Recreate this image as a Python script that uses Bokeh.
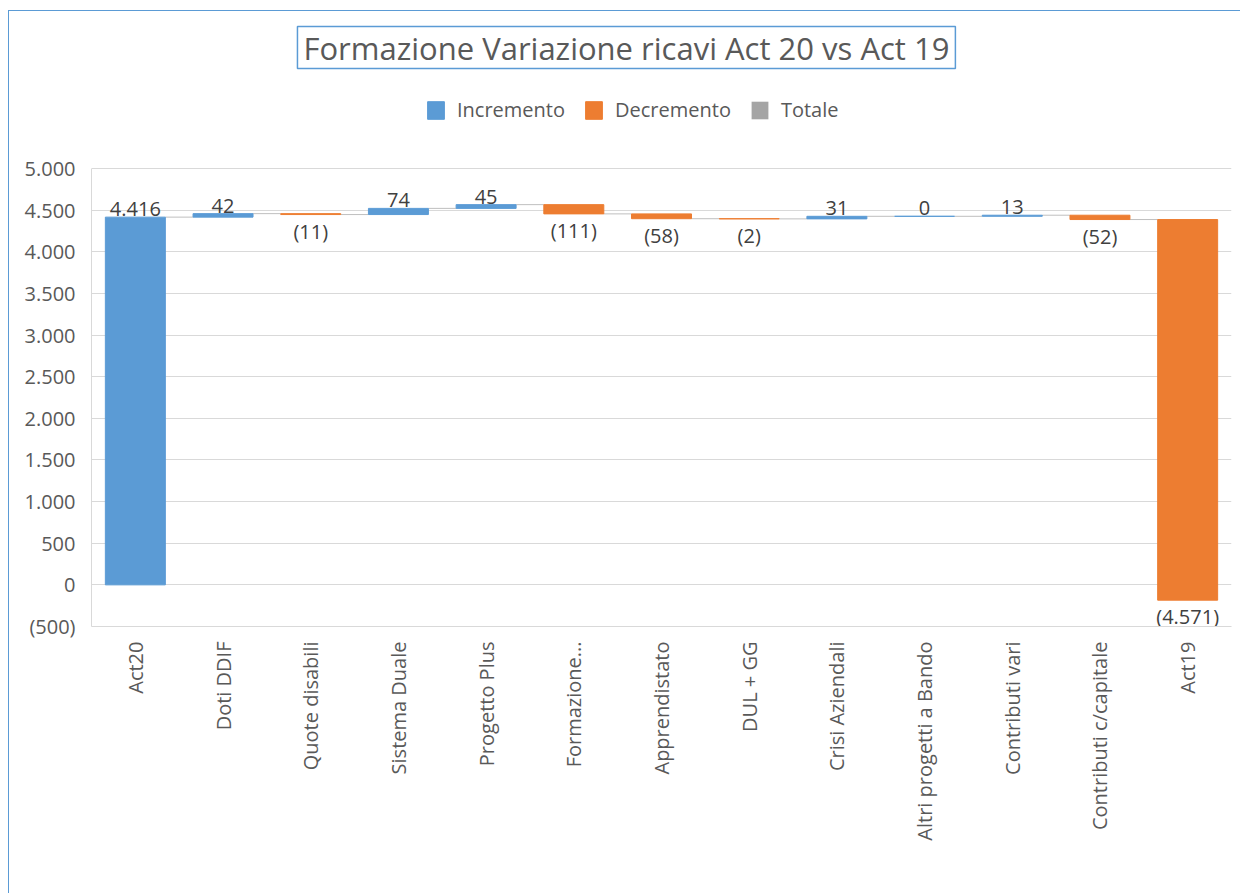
from bokeh.plotting import figure
from bokeh.models import Range1d, FixedTicker, Legend, LegendItem, Label, ColumnDataSource
from bokeh.embed import file_html
from bokeh.resources import INLINE
from bokeh.core.properties import value

categories = ["Act20", "Doti DDIF", "Quote disabili", "Sistema Duale", "Progetto Plus",
              "Formazione...", "Apprendistato", "DUL + GG", "Crisi Aziendali",
              "Altri progetti a Bando", "Contributi vari", "Contributi c/capitale", "Act19"]
deltas = [4416, 42, -11, 74, 45, -111, -58, -2, 31, 0, 13, -52, -4571]
value_labels = ["4.416", "42", "(11)", "74", "45", "(111)", "(58)", "(2)", "31", "0", "13", "(52)", "(4.571)"]
y_ticks = [-500, 0, 500, 1000, 1500, 2000, 2500, 3000, 3500, 4000, 4500, 5000]
y_tick_labels = ["(500)", "0", "500", "1.000", "1.500", "2.000", "2.500", "3.000",
                 "3.500", "4.000", "4.500", "5.000"]
legend_labels = ["Incremento", "Decremento", "Totale"]

BLUE = "#5B9BD5"
ORANGE = "#ED7D31"
GRAY = "#A5A5A5"
TXT = "#595959"
FONT = "Open Sans"

# waterfall geometry
xs = [i + 0.5 for i in range(len(categories))]
bottoms, tops, levels = [], [], []
run = 0
for d in deltas:
    start = run
    run = run + d
    bottoms.append(min(start, run))
    tops.append(max(start, run))
    levels.append(run)

W = 0.684
inc = dict(x=[], top=[], bottom=[])
dec = dict(x=[], top=[], bottom=[])
for x, d, b, t in zip(xs, deltas, bottoms, tops):
    tgt = inc if d >= 0 else dec
    tgt["x"].append(x)
    tgt["top"].append(t)
    tgt["bottom"].append(b)
# no "Totale" bars in this chart: a zero-height placeholder keeps its legend swatch
tot = dict(x=[xs[0]], top=[0], bottom=[0])

H = 893
BOTTOM = 267
Y0, Y1 = -500, 5000
frame_h = H - BOTTOM
ppu = 458 / (Y1 - Y0)           # pixels per unit of the value axis
y_end = Y0 + frame_h / ppu      # frame extends up to the canvas top (title & legend live there)

p = figure(width=1240, height=H, output_backend="svg", toolbar_location=None, title=None,
           x_range=Range1d(0, len(categories)), y_range=Range1d(Y0, y_end),
           min_border_left=91, min_border_right=9, min_border_top=0, min_border_bottom=BOTTOM)
p.outline_line_color = None
p.background_fill_color = None
p.border_fill_color = None
p.styles = {"background": "linear-gradient(#5B9BD5,#5B9BD5) 8px 10px / 1px 100% no-repeat, "
                          "linear-gradient(#5B9BD5,#5B9BD5) 8px 10px / 100% 1px no-repeat, white"}

# connectors
cx0 = [x + W / 2 for x in xs[:-1]]
cx1 = [x - W / 2 for x in xs[1:]]
cy = levels[:-1]
p.segment(x0=cx0, y0=cy, x1=cx1, y1=cy, line_color="#BFBFBF", line_width=1)

r_inc = p.vbar(x="x", top="top", bottom="bottom", width=W, source=ColumnDataSource(inc),
               fill_color=BLUE, line_color=BLUE, line_width=1)
r_dec = p.vbar(x="x", top="top", bottom="bottom", width=W, source=ColumnDataSource(dec),
               fill_color=ORANGE, line_color=ORANGE, line_width=1)
r_tot = p.vbar(x="x", top="top", bottom="bottom", width=W, source=ColumnDataSource(tot),
               fill_color=GRAY, line_color=None)

# data labels
pos = dict(x=[], y=[], t=[])
neg = dict(x=[], y=[], t=[])
for x, d, b, t, lab in zip(xs, deltas, bottoms, tops, value_labels):
    if d >= 0:
        pos["x"].append(x); pos["y"].append(t); pos["t"].append(lab)
    else:
        neg["x"].append(x); neg["y"].append(b); neg["t"].append(lab)
p.text(x="x", y="y", text="t", source=ColumnDataSource(pos), text_align="center",
       text_baseline="bottom", y_offset=-1, text_font=value(FONT),
       text_font_size="20px", text_color="#404040")
p.text(x="x", y="y", text="t", source=ColumnDataSource(neg), text_align="center",
       text_baseline="top", y_offset=3, text_font=value(FONT),
       text_font_size="20px", text_color="#404040")

# axes
p.xaxis.ticker = FixedTicker(ticks=xs)
p.xaxis.major_label_overrides = {x: c for x, c in zip(xs, categories)}
p.xaxis.major_label_orientation = 3.14159265 / 2
p.xaxis.major_label_text_font = FONT
p.xaxis.major_label_text_font_size = "20px"
p.xaxis.major_label_text_color = TXT
p.xaxis.major_label_standoff = 9
p.xaxis.major_tick_line_color = None
p.xaxis.minor_tick_line_color = None
p.xaxis.axis_line_color = "#D9D9D9"

p.yaxis.ticker = FixedTicker(ticks=y_ticks)
p.yaxis.bounds = (Y0, Y1)
p.yaxis.major_label_overrides = {v: s for v, s in zip(y_ticks, y_tick_labels)}
p.yaxis.major_label_text_font = FONT
p.yaxis.major_label_text_font_size = "20px"
p.yaxis.major_label_text_color = TXT
p.yaxis.major_label_standoff = 10
p.yaxis.major_tick_line_color = None
p.yaxis.minor_tick_line_color = None
p.yaxis.axis_line_color = "#D9D9D9"

p.xgrid.grid_line_color = None
p.ygrid.grid_line_color = "#D9D9D9"
p.ygrid.ticker = FixedTicker(ticks=y_ticks)

# title box
title = Label(x=6.10, y=Y1 + (168 - 47) / ppu, text="Formazione Variazione ricavi Act 20 vs Act 19",
              text_align="center", text_baseline="middle", text_font=FONT,
              text_font_size="31px", text_color=TXT, border_line_color=BLUE,
              border_line_width=1.5, padding=(6, 0), background_fill_color="white")
p.add_layout(title)

legend = Legend(items=[LegendItem(label=legend_labels[0], renderers=[r_inc]),
                       LegendItem(label=legend_labels[1], renderers=[r_dec]),
                       LegendItem(label=legend_labels[2], renderers=[r_tot])],
                orientation="horizontal", location=(334, 503), glyph_width=21,
                glyph_height=22, label_standoff=11, spacing=18, padding=0, margin=0,
                label_text_font=FONT, label_text_font_size="20px", label_text_color=TXT,
                border_line_color=None, background_fill_alpha=0)
p.add_layout(legend)

open("out.html", "w").write(file_html(p, INLINE))
